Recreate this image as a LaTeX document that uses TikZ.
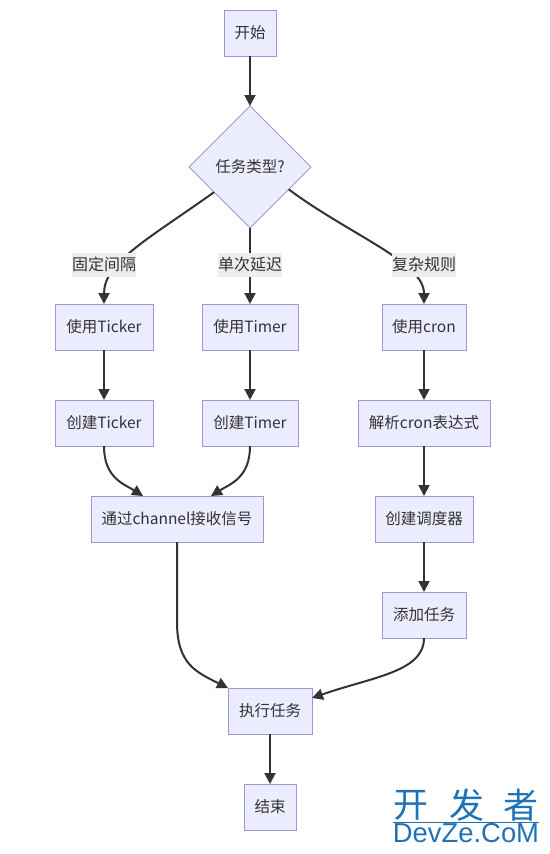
\documentclass[tikz,border=0pt]{standalone}
\usepackage{fontspec}
\setmainfont{Noto Sans CJK SC}
\newfontfamily\markfont{Liberation Sans}
\usetikzlibrary{arrows.meta,calc,positioning,shapes.geometric}
\definecolor{nodefill}{HTML}{ECECFF}
\definecolor{nodeline}{HTML}{A593D3}
\definecolor{inkgray}{HTML}{333333}
\definecolor{tagfill}{HTML}{EDEDED}
\definecolor{markblue}{HTML}{1F72B8}

\begin{document}
\begin{tikzpicture}[
  x=1pt,y=-1pt,
  >={Triangle[length=11pt,width=11pt]},
  every node/.style={text=inkgray,font=\fontsize{15.5}{18}\selectfont},
  flow/.style={draw=nodeline,fill=nodefill,line width=1pt,inner sep=0pt,
    minimum height=46pt,outer sep=0pt},
  choice/.style={diamond,draw=nodeline,fill=nodefill,line width=1pt,inner sep=0pt,
    minimum width=122pt,minimum height=122pt,outer sep=0pt},
  tag/.style={fill=tagfill,inner sep=0pt,minimum width=64pt,minimum height=24pt,
    font=\fontsize{16}{18}\selectfont},
  link/.style={->,draw=inkgray,line width=2pt},
  brand/.style={text=markblue,inner sep=0pt}
]
  \useasboundingbox (0,0) rectangle (549,854);

  \node[flow,minimum width=52pt] (start) at (250,33) {开始};
  \node[choice,below=50pt of start] (kind) {任务类型?};

  \node[flow,minimum width=96pt,below=76pt of kind] (useTimer) {使用Timer};
  \node[flow,minimum width=98pt,left=49pt of useTimer] (useTicker) {使用Ticker};
  \node[flow,minimum width=84pt,right=84pt of useTimer] (useCron) {使用cron};

  \node[flow,minimum width=98pt,below=50pt of useTicker] (newTicker) {创建Ticker};
  \node[flow,minimum width=96pt,below=50pt of useTimer] (newTimer) {创建Timer};
  \node[flow,minimum width=132pt,below=50pt of useCron] (parseCron) {解析cron表达式};

  \node[flow,minimum width=172pt] (recv) at (177,519) {通过channel接收信号};
  \node[flow,minimum width=98pt,below=50pt of parseCron] (sched) {创建调度器};
  \node[flow,minimum width=84pt,below=50pt of sched] (addJob) {添加任务};

  \node[flow,minimum width=84pt] (run) at (270,711) {执行任务};
  \node[flow,minimum width=52pt,below=50pt of run] (finish) {结束};

  % links
  \draw[link] (start) -- (kind);
  \draw[link] (kind.215) .. controls (150,238) and (104,262) .. (useTicker.north);
  \draw[link] (kind.south) -- (useTimer.north);
  \draw[link] (kind.330) .. controls (350,235) and (424,262) .. (useCron.north);

  \draw[link] (useTicker) -- (newTicker);
  \draw[link] (useTimer) -- (newTimer);
  \draw[link] (useCron) -- (parseCron);
  \draw[link] (parseCron) -- (sched);
  \draw[link] (sched) -- (addJob);

  \draw[link] (newTicker.south) .. controls (104,478) and (124,484) .. ($(recv.north)+(-34,0)$);
  \draw[link] (newTimer.south) .. controls (250,478) and (230,484) .. ($(recv.north)+(34,0)$);

  \draw[link] (recv.south) -- ++(0,80) .. controls (177,664) and (196,672) .. (run.north west);
  \draw[link] (addJob.south) .. controls (424,672) and (372,677) .. ($(run.east)+(0,-13)$);
  \draw[link] (run) -- (finish);

  % edge labels
  \node[tag,above=27pt of useTicker] (tagFixed) {固定间隔};
  \node[tag,above=27pt of useTimer] (tagOnce) {单次延迟};
  \node[tag,above=27pt of useCron] (tagComplex) {复杂规则};

  % watermark
  \node[brand,font=\fontsize{35}{36}\selectfont] (brandA) at (411,805) {开};
  \node[brand,font=\fontsize{35}{36}\selectfont] (brandB) at (467,805) {发};
  \node[brand,font=\fontsize{35}{36}\selectfont] (brandC) at (521,805) {者};
  \node[brand,font=\markfont\fontsize{27.4}{30}\selectfont] (brandD) at (466,833) {DevZe.CoM};
  \draw[markblue,line width=.6pt] ($(brandD.north west)+(0,-1)$) -- ($(brandD.north east)+(0,-1)$);
\end{tikzpicture}
\end{document}
